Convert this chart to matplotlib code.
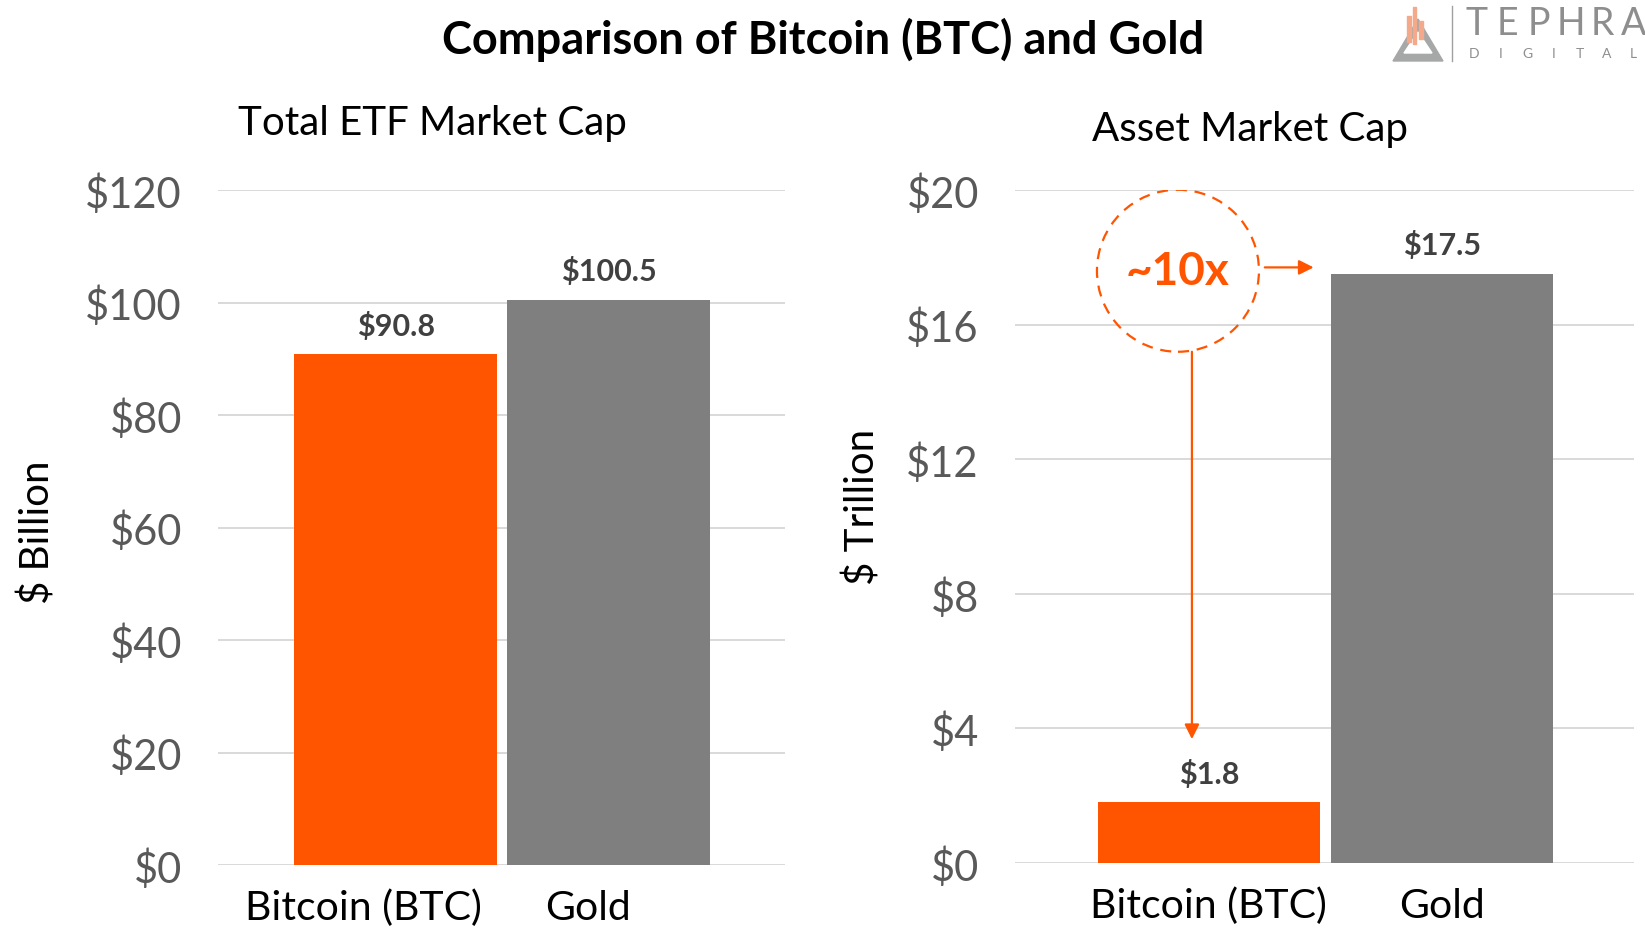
import matplotlib
matplotlib.use('Agg')
import matplotlib.pyplot as plt
import matplotlib.transforms as mtransforms
from matplotlib.patches import Ellipse, Polygon, Rectangle

plt.rcParams['font.family'] = ['Lato', 'DejaVu Sans']

categories = ['Bitcoin (BTC)', 'Gold']
etf_values = [90.8, 100.5]          # $ billion
asset_values = [1.8, 17.5]          # $ trillion
etf_ticks = [0, 20, 40, 60, 80, 100, 120]
asset_ticks = [0, 4, 8, 12, 16, 20]

ORANGE = '#FF5500'
GRAY = '#7F7F7F'
GRID = '#D9D9D9'
TICK = '#595959'
VALUE = '#404040'

fig = plt.figure(figsize=(16.45, 9.29), dpi=100)
W, H = 1645, 929

ax1 = fig.add_axes([218 / W, 1 - 866 / H, 567 / W, 675 / H])
ax2 = fig.add_axes([1015 / W, 1 - 864 / H, 619 / W, 673 / H])


def style(ax, ticks, values, fmt):
    x = range(len(values))
    bars = ax.bar(x, values, width=0.953, color=[ORANGE, GRAY], zorder=3)
    ax.set_xlim(-0.833, 1.826)
    ax.set_ylim(ticks[0], ticks[-1])
    ax.set_yticks(ticks)
    ax.set_yticklabels([f'${t}' for t in ticks], fontsize=30, color=TICK)
    ax.set_xticks(list(x))
    ax.set_xticklabels(categories, fontsize=29.5, color='black')
    ax.tick_params(length=0)
    ax.tick_params(axis='y', pad=26)
    ax.tick_params(axis='x', pad=17)
    ax.grid(axis='y', color=GRID, lw=1.4, zorder=0)
    ax.set_axisbelow(True)
    for s in ax.spines.values():
        s.set_visible(False)
    for b, v in zip(bars, values):
        ax.annotate(fmt.format(v), (b.get_x() + b.get_width() / 2, v),
                    xytext=(0, 21), textcoords='offset points',
                    ha='center', va='center', fontsize=22,
                    fontweight='bold', color=VALUE)
    return bars


style(ax1, etf_ticks, etf_values, '${:.1f}')
style(ax2, asset_ticks, asset_values, '${:.1f}')

# left panel category labels sit a little left of the bar centres
for lab, dx in zip(ax1.get_xticklabels(), [-23, -15]):
    lab.set_transform(lab.get_transform() +
                      mtransforms.ScaledTranslation(dx / 72, 0, fig.dpi_scale_trans))

ax1.set_ylabel('$ Billion', fontsize=29, color='black')
ax1.yaxis.set_label_coords(-0.284, 0.495)
ax2.set_ylabel('$ Trillion', fontsize=29, color='black')
ax2.yaxis.set_label_coords(-0.216, 0.530)

fig.text(823 / W, 1 - 40 / H, 'Comparison of Bitcoin (BTC) and Gold',
         ha='center', va='center', fontsize=32.5, fontweight='bold')
fig.text(432 / W, 1 - 123 / H, 'Total ETF Market Cap', ha='center', va='center',
         fontsize=29)
fig.text(1250 / W, 1 - 129 / H, 'Asset Market Cap', ha='center', va='center',
         fontsize=29)

# ~10x callout on the right panel
px_x = 619 / (1.826 + 0.833)
px_y = 673 / (asset_ticks[-1] - asset_ticks[0])
cx, cy, r = -0.133, 17.6, 81
ax2.add_patch(Ellipse((cx, cy), 2 * r / px_x, 2 * r / px_y, fill=False,
                      ec=ORANGE, lw=1.6, ls=(0, (5, 3.5)), zorder=5))
ax2.text(cx, cy, '~10x', ha='center', va='center', fontsize=33,
         fontweight='bold', color=ORANGE, zorder=6)
ax2.annotate('', xy=(0.45, 17.7), xytext=(cx + r / px_x + 0.025, 17.7),
             arrowprops=dict(arrowstyle='-|>', color=ORANGE, lw=1.6,
                             mutation_scale=22, shrinkA=0, shrinkB=0))
ax2.annotate('', xy=(-0.073, asset_values[0] + 1.88),
             xytext=(-0.073, cy - r / px_y),
             arrowprops=dict(arrowstyle='-|>', color=ORANGE, lw=1.6,
                             mutation_scale=22, shrinkA=0, shrinkB=0))

# logo, drawn in pixel space
lg = fig.add_axes([0, 0, 1, 1], zorder=-1)
lg.set_xlim(0, W)
lg.set_ylim(H, 0)
lg.axis('off')
lg.add_patch(Polygon([(1393, 62), (1443, 62), (1418, 20)], color='#A6A8A8'))
lg.add_patch(Polygon([(1404, 54), (1432, 54), (1418, 33)], color='white'))
for x0, y0, y1 in [(1407, 17, 43), (1412.5, 8, 45), (1419, 22, 40)]:
    lg.add_patch(Rectangle((x0, y0), 3.6, y1 - y0, color='#F4A98A'))
lg.plot([1452, 1452], [7, 62], color='#A0A0A0', lw=1)
for i, ch in enumerate('TEPHRA'):
    lg.text(1476 + i * 31.5, 24, ch, ha='center', va='center', fontsize=27,
            color='#8E8E8E')
for i, ch in enumerate('DIGITAL'):
    lg.text(1474 + i * 26.5, 54, ch, ha='center', va='center', fontsize=10,
            color='#8E8E8E')

fig.savefig('out.png', dpi=100, facecolor='white')
